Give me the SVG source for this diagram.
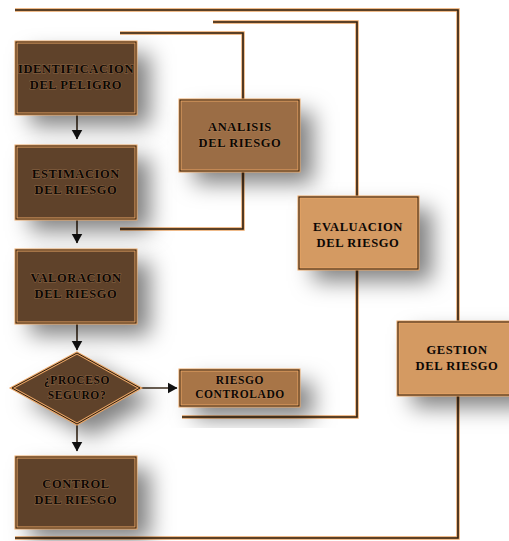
<svg xmlns="http://www.w3.org/2000/svg" width="509" height="541" viewBox="0 0 509 541">
<defs>
<filter id="sh" x="-60%" y="-60%" width="220%" height="220%">
<feDropShadow dx="14" dy="12" stdDeviation="11" flood-color="#000" flood-opacity="0.5"/>
</filter>
<marker id="ah" viewBox="0 0 10 12" refX="9.5" refY="6" markerWidth="10" markerHeight="12" markerUnits="userSpaceOnUse" orient="auto">
<path d="M0,0.5 L10,6 L0,11.5 Z" fill="#111"/>
</marker>
</defs>
<style>
.dark{fill:#5e4229}
.mid{fill:#9b6d45}
.mid2{fill:#a87547}
.light{fill:#d49a62}
.ob{fill:none;stroke:#eaa565;stroke-width:3}
.ib{fill:none;stroke:#2a1c0f;stroke-width:1}
.t{font-family:"Liberation Serif",serif;font-weight:bold;font-size:12.5px;letter-spacing:0.6px;fill:#0d0703;text-anchor:middle;stroke:#c49468;stroke-opacity:0.45;stroke-width:1;paint-order:stroke}
.ts{font-size:11.5px}
.lo{fill:none;stroke:#eaa565;stroke-width:3.4}
.li{fill:none;stroke:#2e2012;stroke-width:1.6}
.ar{fill:none;stroke:#3a2a1a;stroke-width:1.6}
</style>
<rect width="509" height="541" fill="#fff"/>
<g id="connectors">
<path class="lo" d="M15,10 H458 V538 H15"/>
<path class="li" d="M15,10 H458 V538 H15"/>
<path class="lo" d="M213,22 H357 V197 M357,269 V417 H182"/>
<path class="li" d="M213,22 H357 V197 M357,269 V417 H182"/>
<path class="lo" d="M120,33 H243 V100 M243,171 V229 H120"/>
<path class="li" d="M120,33 H243 V100 M243,171 V229 H120"/>
<path class="ar" d="M77,114 V139" marker-end="url(#ah)"/>
<path class="ar" d="M77,219 V243" marker-end="url(#ah)"/>
<path class="ar" d="M77,323 V350" marker-end="url(#ah)"/>
<path class="ar" d="M77,424 V451" marker-end="url(#ah)"/>
<path class="ar" d="M140,388 H177" marker-end="url(#ah)"/>
</g>
<g id="identificacion">
<rect class="dark" x="16" y="42" width="120" height="72" filter="url(#sh)"/>
<rect class="ob" x="16" y="42" width="120" height="72"/><rect class="ib" x="16" y="42" width="120" height="72"/>
<text class="t" x="76" y="73" letter-spacing="0.2">IDENTIFICACION</text>
<text class="t" x="76" y="89">DEL PELIGRO</text>
</g>
<g id="estimacion">
<rect class="dark" x="16" y="146" width="120" height="73" filter="url(#sh)"/>
<rect class="ob" x="16" y="146" width="120" height="73"/><rect class="ib" x="16" y="146" width="120" height="73"/>
<text class="t" x="76" y="178">ESTIMACION</text>
<text class="t" x="76" y="194">DEL RIESGO</text>
</g>
<g id="valoracion">
<rect class="dark" x="16" y="250" width="120" height="73" filter="url(#sh)"/>
<rect class="ob" x="16" y="250" width="120" height="73"/><rect class="ib" x="16" y="250" width="120" height="73"/>
<text class="t" x="76" y="282">VALORACION</text>
<text class="t" x="76" y="298">DEL RIESGO</text>
</g>
<g id="proceso">
<path class="dark" d="M77,353 L140,388 L77,424 L12,388 Z" filter="url(#sh)"/>
<path class="ob" d="M77,353 L140,388 L77,424 L12,388 Z"/><path class="ib" d="M77,353 L140,388 L77,424 L12,388 Z"/>
<text class="t ts" x="77" y="384">¿PROCESO</text>
<text class="t ts" x="77" y="399">SEGURO?</text>
</g>
<g id="control">
<rect class="dark" x="16" y="457" width="120" height="71" filter="url(#sh)"/>
<rect class="ob" x="16" y="457" width="120" height="71"/><rect class="ib" x="16" y="457" width="120" height="71"/>
<text class="t" x="76" y="488">CONTROL</text>
<text class="t" x="76" y="504">DEL RIESGO</text>
</g>
<g id="analisis">
<rect class="mid" x="180" y="100" width="119" height="71" filter="url(#sh)"/>
<rect class="ob" x="180" y="100" width="119" height="71"/><rect class="ib" x="180" y="100" width="119" height="71"/>
<text class="t" x="240" y="131">ANALISIS</text>
<text class="t" x="240" y="147">DEL RIESGO</text>
</g>
<g id="riesgo-controlado">
<rect class="mid2" x="180" y="370" width="119" height="36" filter="url(#sh)"/>
<rect class="ob" x="180" y="370" width="119" height="36"/><rect class="ib" x="180" y="370" width="119" height="36"/>
<text class="t ts" x="240" y="384">RIESGO</text>
<text class="t ts" x="240" y="398">CONTROLADO</text>
</g>
<g id="evaluacion">
<rect class="light" x="299" y="197" width="119" height="72" filter="url(#sh)"/>
<rect class="ob" x="299" y="197" width="119" height="72"/><rect class="ib" x="299" y="197" width="119" height="72"/>
<text class="t" x="358" y="231">EVALUACION</text>
<text class="t" x="358" y="247">DEL RIESGO</text>
</g>
<g id="gestion">
<rect class="light" x="398" y="322" width="122" height="73" filter="url(#sh)"/>
<rect class="ob" x="398" y="322" width="122" height="73"/><rect class="ib" x="398" y="322" width="122" height="73"/>
<text class="t" x="457" y="354">GESTION</text>
<text class="t" x="457" y="370">DEL RIESGO</text>
</g>
</svg>
